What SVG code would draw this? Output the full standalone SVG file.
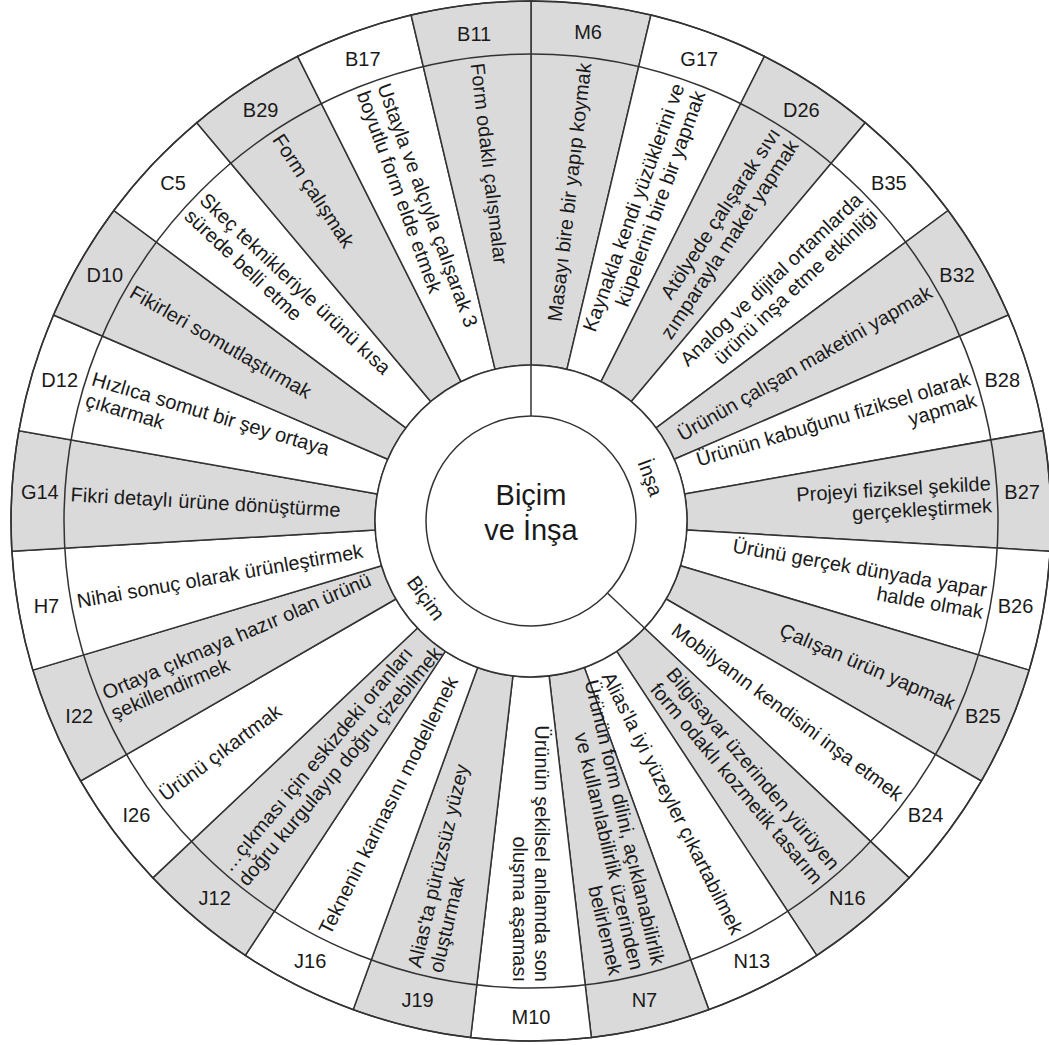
<svg xmlns="http://www.w3.org/2000/svg" width="1049" height="1045" viewBox="0 0 1049 1045">
<style>
.w{fill:#fff;stroke:#333;stroke-width:1.5}
.g{fill:#dadada;stroke:#333;stroke-width:1.5}
.ring{fill:none;stroke:#333;stroke-width:1.5}
.div{stroke:#333;stroke-width:1.5}
text{font-family:"Liberation Sans",Arial,sans-serif;fill:#1a1a1a}
.t{font-size:20px}
.code{font-size:20px;text-anchor:middle;dominant-baseline:central}
.r{text-anchor:end}
.l{text-anchor:start}
.ctr{font-size:29px;text-anchor:middle}
.sec{font-size:20px;text-anchor:middle;dominant-baseline:central}
</style>
<defs>
<path id="wedge" d="M 512.89 366.05 L 470.63 4.52 A 520 520 0 0 1 591.37 4.52 L 549.11 366.05 A 156 156 0 0 0 512.89 366.05 Z"/>
</defs>
<rect x="0" y="0" width="1049" height="1045" fill="#fff"/>

<g id="seg-M6" transform="rotate(6.667 531 521)"><use href="#wedge" class="g"/>
<text class="t r" transform="rotate(-90 531 60)" x="531" y="67">Masayı bire bir yapıp koymak</text>
<text class="code" x="531" y="29" transform="rotate(-6.667 531 29)">M6</text></g>

<g id="seg-G17" transform="rotate(20 531 521)"><use href="#wedge" class="w"/>
<text class="t r" transform="rotate(-90 531 60)"><tspan x="531" y="56">Kaynakla kendi yüzüklerini ve</tspan><tspan x="531" y="78">küpelerini bire bir yapmak</tspan></text>
<text class="code" x="531" y="29" transform="rotate(-20 531 29)">G17</text></g>

<g id="seg-D26" transform="rotate(33.333 531 521)"><use href="#wedge" class="g"/>
<text class="t r" transform="rotate(-90 531 60)"><tspan x="531" y="56">Atölyede çalışarak sıvı</tspan><tspan x="531" y="78">zımparayla maket yapmak</tspan></text>
<text class="code" x="531" y="29" transform="rotate(-33.333 531 29)">D26</text></g>

<g id="seg-B35" transform="rotate(46.667 531 521)"><use href="#wedge" class="w"/>
<text class="t r" transform="rotate(-90 531 60)"><tspan x="531" y="56">Analog ve dijital ortamlarda</tspan><tspan x="531" y="78">ürünü inşa etme etkinliği</tspan></text>
<text class="code" x="531" y="29" transform="rotate(-46.667 531 29)">B35</text></g>

<g id="seg-B32" transform="rotate(60 531 521)"><use href="#wedge" class="g"/>
<text class="t r" transform="rotate(-90 531 60)" x="531" y="67">Ürünün çalışan maketini yapmak</text>
<text class="code" x="531" y="29" transform="rotate(-60 531 29)">B32</text></g>

<g id="seg-B28" transform="rotate(73.333 531 521)"><use href="#wedge" class="w"/>
<text class="t r" transform="rotate(-90 531 60)"><tspan x="531" y="56">Ürünün kabuğunu fiziksel olarak</tspan><tspan x="531" y="78">yapmak</tspan></text>
<text class="code" x="531" y="29" transform="rotate(-73.333 531 29)">B28</text></g>

<g id="seg-B27" transform="rotate(86.667 531 521)"><use href="#wedge" class="g"/>
<text class="t r" transform="rotate(-90 531 60)"><tspan x="531" y="56">Projeyi fiziksel şekilde</tspan><tspan x="531" y="78">gerçekleştirmek</tspan></text>
<text class="code" x="531" y="29" transform="rotate(-86.667 531 29)">B27</text></g>

<g id="seg-B26" transform="rotate(100 531 521)"><use href="#wedge" class="w"/>
<text class="t r" transform="rotate(-90 531 60)"><tspan x="531" y="56">Ürünü gerçek dünyada yapar</tspan><tspan x="531" y="78">halde olmak</tspan></text>
<text class="code" x="531" y="29" transform="rotate(-100 531 29)">B26</text></g>

<g id="seg-B25" transform="rotate(113.333 531 521)"><use href="#wedge" class="g"/>
<text class="t r" transform="rotate(-90 531 60)" x="531" y="67">Çalışan ürün yapmak</text>
<text class="code" x="531" y="29" transform="rotate(-113.333 531 29)">B25</text></g>

<g id="seg-B24" transform="rotate(126.667 531 521)"><use href="#wedge" class="w"/>
<text class="t r" transform="rotate(-90 531 60)" x="531" y="67">Mobilyanın kendisini inşa etmek</text>
<text class="code" x="531" y="29" transform="rotate(-126.667 531 29)">B24</text></g>

<g id="seg-N16" transform="rotate(140 531 521)"><use href="#wedge" class="g"/>
<text class="t r" transform="rotate(-90 531 60)"><tspan x="531" y="56">Bilgisayar üzerinden yürüyen</tspan><tspan x="531" y="78">form odaklı kozmetik tasarım</tspan></text>
<text class="code" x="531" y="29" transform="rotate(-140 531 29)">N16</text></g>

<g id="seg-N13" transform="rotate(153.333 531 521)"><use href="#wedge" class="w"/>
<text class="t r" transform="rotate(-90 531 60)" x="531" y="67">Alias'la iyi yüzeyler çıkartabilmek</text>
<text class="code" x="531" y="29" transform="rotate(-153.333 531 29)">N13</text></g>

<g id="seg-N7" transform="rotate(166.667 531 521)"><use href="#wedge" class="g"/>
<text class="t r" transform="rotate(-90 531 60)"><tspan x="531" y="45">Ürünün form dilini, açıklanabilirlik</tspan><tspan x="531" y="67">ve kullanılabilirlik üzerinden</tspan><tspan x="531" y="89">belirlemek</tspan></text>
<text class="code" x="531" y="29" transform="rotate(-166.667 531 29)">N7</text></g>

<g id="seg-M10" transform="rotate(180 531 521)"><use href="#wedge" class="w"/>
<text class="t r" transform="rotate(-90 531 60)"><tspan x="531" y="56">Ürünün şekilsel anlamda son</tspan><tspan x="531" y="78">oluşma aşaması</tspan></text>
<text class="code" x="531" y="25" transform="rotate(-180 531 25)">M10</text></g>

<g id="seg-J19" transform="rotate(193.333 531 521)"><use href="#wedge" class="g"/>
<text class="t l" transform="rotate(90 531 60)"><tspan x="531" y="56">Alias'ta pürüzsüz yüzey</tspan><tspan x="531" y="78">oluşturmak</tspan></text>
<text class="code" x="531" y="29" transform="rotate(-193.333 531 29)">J19</text></g>

<g id="seg-J16" transform="rotate(206.667 531 521)"><use href="#wedge" class="w"/>
<text class="t l" transform="rotate(90 531 60)" x="531" y="67">Teknenin karinasını modellemek</text>
<text class="code" x="531" y="29" transform="rotate(-206.667 531 29)">J16</text></g>

<g id="seg-J12" transform="rotate(220 531 521)"><use href="#wedge" class="g"/>
<text class="t l" transform="rotate(90 531 60)"><tspan x="529" y="56">…çıkması için eskizdeki oranları</tspan><tspan x="529" y="78">doğru kurgulayıp doğru çizebilmek</tspan></text>
<text class="code" x="531" y="29" transform="rotate(-220 531 29)">J12</text></g>

<g id="seg-I26" transform="rotate(233.333 531 521)"><use href="#wedge" class="w"/>
<text class="t l" transform="rotate(90 531 60)" x="531" y="67">Ürünü çıkartmak</text>
<text class="code" x="531" y="29" transform="rotate(-233.333 531 29)">I26</text></g>

<g id="seg-I22" transform="rotate(246.667 531 521)"><use href="#wedge" class="g"/>
<text class="t l" transform="rotate(90 531 60)"><tspan x="531" y="56">Ortaya çıkmaya hazır olan ürünü</tspan><tspan x="531" y="78">şekillendirmek</tspan></text>
<text class="code" x="531" y="29" transform="rotate(-246.667 531 29)">I22</text></g>

<g id="seg-H7" transform="rotate(260 531 521)"><use href="#wedge" class="w"/>
<text class="t l" transform="rotate(90 531 60)" x="531" y="67">Nihai sonuç olarak ürünleştirmek</text>
<text class="code" x="531" y="29" transform="rotate(-260 531 29)">H7</text></g>

<g id="seg-G14" transform="rotate(273.333 531 521)"><use href="#wedge" class="g"/>
<text class="t l" transform="rotate(90 531 60)" x="531" y="67">Fikri detaylı ürüne dönüştürme</text>
<text class="code" x="531" y="29" transform="rotate(-273.333 531 29)">G14</text></g>

<g id="seg-D12" transform="rotate(286.667 531 521)"><use href="#wedge" class="w"/>
<text class="t l" transform="rotate(90 531 60)"><tspan x="531" y="56">Hızlıca somut bir şey ortaya</tspan><tspan x="531" y="78">çıkarmak</tspan></text>
<text class="code" x="531" y="29" transform="rotate(-286.667 531 29)">D12</text></g>

<g id="seg-D10" transform="rotate(300 531 521)"><use href="#wedge" class="g"/>
<text class="t l" transform="rotate(90 531 60)" x="531" y="67">Fikirleri somutlaştırmak</text>
<text class="code" x="531" y="29" transform="rotate(-300 531 29)">D10</text></g>

<g id="seg-C5" transform="rotate(313.333 531 521)"><use href="#wedge" class="w"/>
<text class="t l" transform="rotate(90 531 60)"><tspan x="531" y="56">Skeç teknikleriyle ürünü kısa</tspan><tspan x="531" y="78">sürede belli etme</tspan></text>
<text class="code" x="531" y="29" transform="rotate(-313.333 531 29)">C5</text></g>

<g id="seg-B29" transform="rotate(326.667 531 521)"><use href="#wedge" class="g"/>
<text class="t l" transform="rotate(90 531 60)" x="531" y="67">Form çalışmak</text>
<text class="code" x="531" y="29" transform="rotate(-326.667 531 29)">B29</text></g>

<g id="seg-B17" transform="rotate(340 531 521)"><use href="#wedge" class="w"/>
<text class="t l" transform="rotate(90 531 60)"><tspan x="531" y="56">Ustayla ve alçıyla çalışarak 3</tspan><tspan x="531" y="78">boyutlu form elde etmek</tspan></text>
<text class="code" x="531" y="29" transform="rotate(-340 531 29)">B17</text></g>

<g id="seg-B11" transform="rotate(353.333 531 521)"><use href="#wedge" class="g"/>
<text class="t l" transform="rotate(90 531 60)" x="531" y="67">Form odaklı çalışmalar</text>
<text class="code" x="531" y="31" transform="rotate(-353.333 531 31)">B11</text></g>

<g id="connectors">
<circle class="ring" cx="531" cy="521" r="520"/>
<circle class="ring" cx="531" cy="521" r="467"/>
<circle class="ring" cx="531" cy="521" r="156" style="fill:#fff"/>
<line class="div" x1="531" y1="365" x2="531" y2="416"/>
<line class="div" x1="531" y1="365" x2="531" y2="416" transform="rotate(133.333 531 521)"/>
</g>

<g id="sec-Insa"><text class="sec" x="650.3" y="477.6" transform="rotate(70 650.3 477.6)">İnşa</text></g>
<g id="sec-Bicim"><text class="sec" x="426" y="598" transform="rotate(54 426 598)">Biçim</text></g>

<g id="center">
<circle class="ring" cx="531" cy="521" r="105" style="fill:#fff"/>
<text class="ctr" x="531" y="505">Biçim</text>
<text class="ctr" x="531" y="540">ve İnşa</text>
</g>
</svg>
